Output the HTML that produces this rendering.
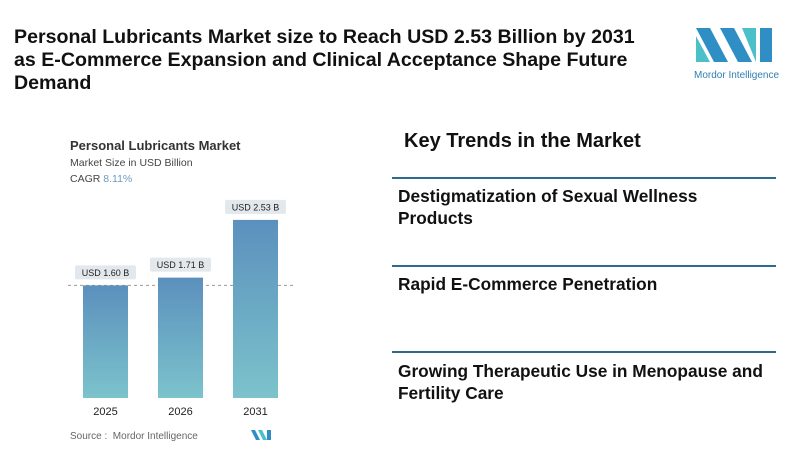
<!DOCTYPE html>
<html><head><meta charset="utf-8"><style>
body{margin:0;width:800px;height:457px;background:#fff;font-family:"Liberation Sans",sans-serif;position:relative;overflow:hidden}
.a{position:absolute}
.title{left:14px;top:26px;font-size:19.6px;font-weight:bold;line-height:23px;color:#111;width:660px}
.kt{left:404px;top:130px;font-size:20px;font-weight:bold;color:#111}
.rule{left:392px;width:384px;height:1.5px;background:#2d6a8e}
.item{left:398px;font-size:17.3px;font-weight:bold;color:#111;line-height:22px;white-space:nowrap}
</style></head><body>
<div class="a title">Personal Lubricants Market size to Reach USD 2.53 Billion by 2031<br>as E-Commerce Expansion and Clinical Acceptance Shape Future<br>Demand</div>
<svg class="a" style="left:690px;top:22px" width="90" height="62">
<polygon points="6,6 20,6 38,40 24,40" fill="#2f8fc4"/><polygon points="6,14 20,40 6,40" fill="#4cc0c9"/>
<polygon points="30,6 44,6 62,40 48,40" fill="#2f8fc4"/><polygon points="52,6 66,6 66,40" fill="#4cc0c9"/><polygon points="70,6 82,6 82,40 70,40" fill="#2f8fc4"/>
<text x="4" y="56" font-size="10" fill="#2f7fb0" font-family="Liberation Sans">Mordor Intelligence</text></svg>
<div class="a" style="left:70px;top:138px;font-size:13px;font-weight:bold;color:#333">Personal Lubricants Market</div>
<div class="a" style="left:70px;top:157px;font-size:10.5px;color:#444">Market Size in USD Billion</div>
<div class="a" style="left:70px;top:173px;font-size:10.5px;color:#444">CAGR <span style="color:#6a9cbf">8.11%</span></div>
<svg id="chart" class="a" style="left:0;top:0" width="380" height="457">
<defs><linearGradient id="g" x1="0" y1="0" x2="0" y2="1"><stop offset="0" stop-color="#5b90bd"/><stop offset="1" stop-color="#7cc3cc"/></linearGradient></defs>
</svg>
<div class="a" style="left:70px;top:431px;font-size:10px;color:#666">Source :&nbsp; Mordor Intelligence</div>
<div class="a kt">Key Trends in the Market</div>
<div class="a rule" style="top:177px"></div>
<div class="a item" style="top:185px">Destigmatization of Sexual Wellness<br>Products</div>
<div class="a rule" style="top:265px"></div>
<div class="a item" style="top:273px">Rapid E-Commerce Penetration</div>
<div class="a rule" style="top:351px"></div>
<div class="a item" style="top:360px">Growing Therapeutic Use in Menopause and<br>Fertility Care</div>
<script>
const categories=["2025","2026","2031"];
const values=[1.60,1.71,2.53];
const labels=["USD 1.60 B","USD 1.71 B","USD 2.53 B"];
const svg=document.getElementById('chart');const NS="http://www.w3.org/2000/svg";
const base=398,k=70.4,x0=83,step=75,w=45;
const y=v=>base-v*k;
function mk(t,a){const e=document.createElementNS(NS,t);for(const n in a)e.setAttribute(n,a[n]);svg.appendChild(e);return e;}
const dl=mk('line',{x1:68,x2:294,y1:y(values[0]),y2:y(values[0]),stroke:'#999','stroke-dasharray':'3,3','stroke-width':1});


categories.forEach((c,i)=>{
 const x=x0+i*step;
 const r=mk('rect',{x:x,y:y(values[i]),width:w,height:base-y(values[i]),fill:'url(#g)'});
 
 
 const b=mk('rect',{x:x-8,y:y(values[i])-20,width:w+16,height:14,rx:2,fill:'#e3e8ec'});
 
 
 const t=mk('text',{x:x+w/2,y:y(values[i])-9.5,'text-anchor':'middle','font-size':9,fill:'#222'});t.textContent=labels[i];
 
 
 const l=mk('text',{x:x+w/2,y:415,'text-anchor':'middle','font-size':11,fill:'#222'});l.textContent=c;
 
 
});
</script>
<svg class="a" style="left:250px;top:429px" width="22" height="12"><polygon points="1,1 5,1 10,11 6,11" fill="#2f8fc4"/><polygon points="8,1 12,1 17,11 13,11" fill="#4cc0c9"/><polygon points="17,1 21,1 21,11 17,11" fill="#2f8fc4"/></svg>
</body></html>
